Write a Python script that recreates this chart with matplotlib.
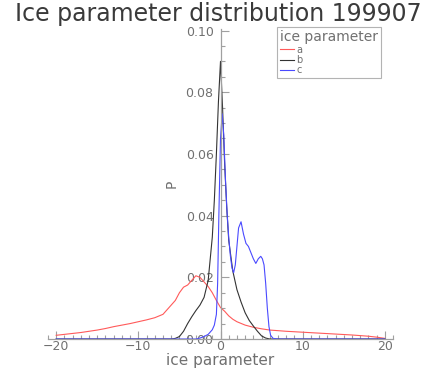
import numpy as np
import matplotlib
matplotlib.use("Agg")
import matplotlib.pyplot as plt
from matplotlib.ticker import MultipleLocator

TITLE = "Ice parameter distribution 199907"
LEGEND_TITLE = "ice parameter"
SERIES = ["a", "b", "c"]

x_a = [-20, -19, -18, -17, -16, -15, -14, -13, -12, -11, -10, -9, -8, -7, -6.5, -6, -5.5, -5,
       -4.5, -4, -3.5, -3, -2.5, -2, -1.5, -1, -0.5, 0, 0.5, 1, 1.5, 2, 3, 4, 5, 6, 7, 8,
       10, 12, 14, 16, 18, 19, 20]
y_a = [0.0012, 0.0015, 0.0018, 0.0021, 0.0025, 0.0029, 0.0034, 0.0040, 0.0045, 0.0050, 0.0056,
       0.0062, 0.0069, 0.0080, 0.0095, 0.0110, 0.0125, 0.0150, 0.0168, 0.0175, 0.0190, 0.0205,
       0.0200, 0.0185, 0.0170, 0.0150, 0.0125, 0.0102, 0.0090, 0.0075, 0.0064, 0.0056, 0.0045,
       0.0038, 0.0033, 0.0029, 0.0027, 0.0025, 0.0022, 0.0019, 0.0016, 0.0013, 0.0009, 0.0006,
       0.0002]

x_b = [-20, -6, -5.5, -5, -4.5, -4, -3.5, -3, -2.5, -2, -1.5, -1, -0.75, -0.5, -0.25, 0,
       0.25, 0.5, 0.75, 1, 1.5, 2, 2.5, 3, 3.5, 4, 4.5, 5, 5.5, 6, 20]
y_b = [0, 0, 0.0002, 0.0008, 0.0025, 0.005, 0.0072, 0.0092, 0.011, 0.0135, 0.019, 0.033,
       0.045, 0.06, 0.077, 0.090, 0.075, 0.057, 0.043, 0.032, 0.022, 0.016, 0.012, 0.0085,
       0.006, 0.0042, 0.0025, 0.001, 0.0003, 0, 0]

x_c = [-20, -3, -2.5, -2, -1.5, -1, -0.75, -0.5, -0.35, -0.2, 0, 0.2, 0.4, 0.6, 0.8, 1.0,
       1.2, 1.4, 1.6, 1.8, 2.0, 2.2, 2.5, 2.8, 3.1, 3.4, 3.7, 4.0, 4.3, 4.6, 4.9, 5.1, 5.3,
       5.5, 5.7, 5.9, 6.1, 6.4, 7, 20]
y_c = [0, 0, 0.0003, 0.0008, 0.0015, 0.003, 0.0045, 0.008, 0.018, 0.040, 0.065, 0.073,
       0.066, 0.052, 0.041, 0.033, 0.027, 0.023, 0.0215, 0.024, 0.030, 0.036, 0.038, 0.034,
       0.031, 0.030, 0.028, 0.026, 0.0245, 0.026, 0.0268, 0.026, 0.024, 0.018, 0.010, 0.004,
       0.0012, 0.0002, 0, 0]

colors = ["#ff5a5a", "#333333", "#4a4aff"]
gray = "#707070"

fig = plt.figure(figsize=(4.27, 3.74), dpi=100)
ax = fig.add_axes([0.1124, 0.0936, 0.8080, 0.8289])

for (xs, ys), name, c in zip([(x_a, y_a), (x_b, y_b), (x_c, y_c)], SERIES, colors):
    ax.plot(xs, ys, color=c, lw=0.8, label=name)

ax.set_xlim(-21, 21)
ax.set_ylim(0, 0.1005)
ax.spines["left"].set_position(("data", 0))
ax.spines["top"].set_visible(False)
ax.spines["right"].set_visible(False)
for s in ("left", "bottom"):
    ax.spines[s].set_color("#a0a0a0")
    ax.spines[s].set_linewidth(0.9)

ax.xaxis.set_major_locator(MultipleLocator(10))
ax.xaxis.set_minor_locator(MultipleLocator(1))
ax.yaxis.set_major_locator(MultipleLocator(0.02))
ax.yaxis.set_minor_locator(MultipleLocator(0.005))
ax.tick_params(which="both", direction="in", color="#a0a0a0", labelcolor=gray, labelsize=9)
ax.tick_params(which="major", length=6, width=0.8)
ax.tick_params(which="minor", length=3, width=0.8)
ax.yaxis.set_major_formatter(plt.FuncFormatter(lambda v, p: "%.2f" % v))
ax.tick_params(axis="y", pad=5)
ax.tick_params(axis="x", pad=1)

ax.set_xlabel("ice parameter", color=gray, fontsize=11, labelpad=0)
ax.set_ylabel("P", color=gray, fontsize=10)
ax.yaxis.set_label_coords(0.378, 0.5)

# title sits a little right of centre, like the original
fig.text(0.512, 0.995, TITLE, ha="center", va="top", fontsize=17, color="#3a3a3a")

leg = ax.legend(title=LEGEND_TITLE, loc="upper left", bbox_to_anchor=(0.664, 1.006),
                borderaxespad=0, fontsize=7, title_fontsize=10, fancybox=False,
                handlelength=1.4, handletextpad=0.3, labelspacing=0.05,
                borderpad=0.3, edgecolor="#a0a0a0", alignment="left")
leg.get_frame().set_linewidth(0.8)
leg.get_title().set_color(gray)
for t in leg.get_texts():
    t.set_color(gray)

fig.savefig("out.png", dpi=100)
